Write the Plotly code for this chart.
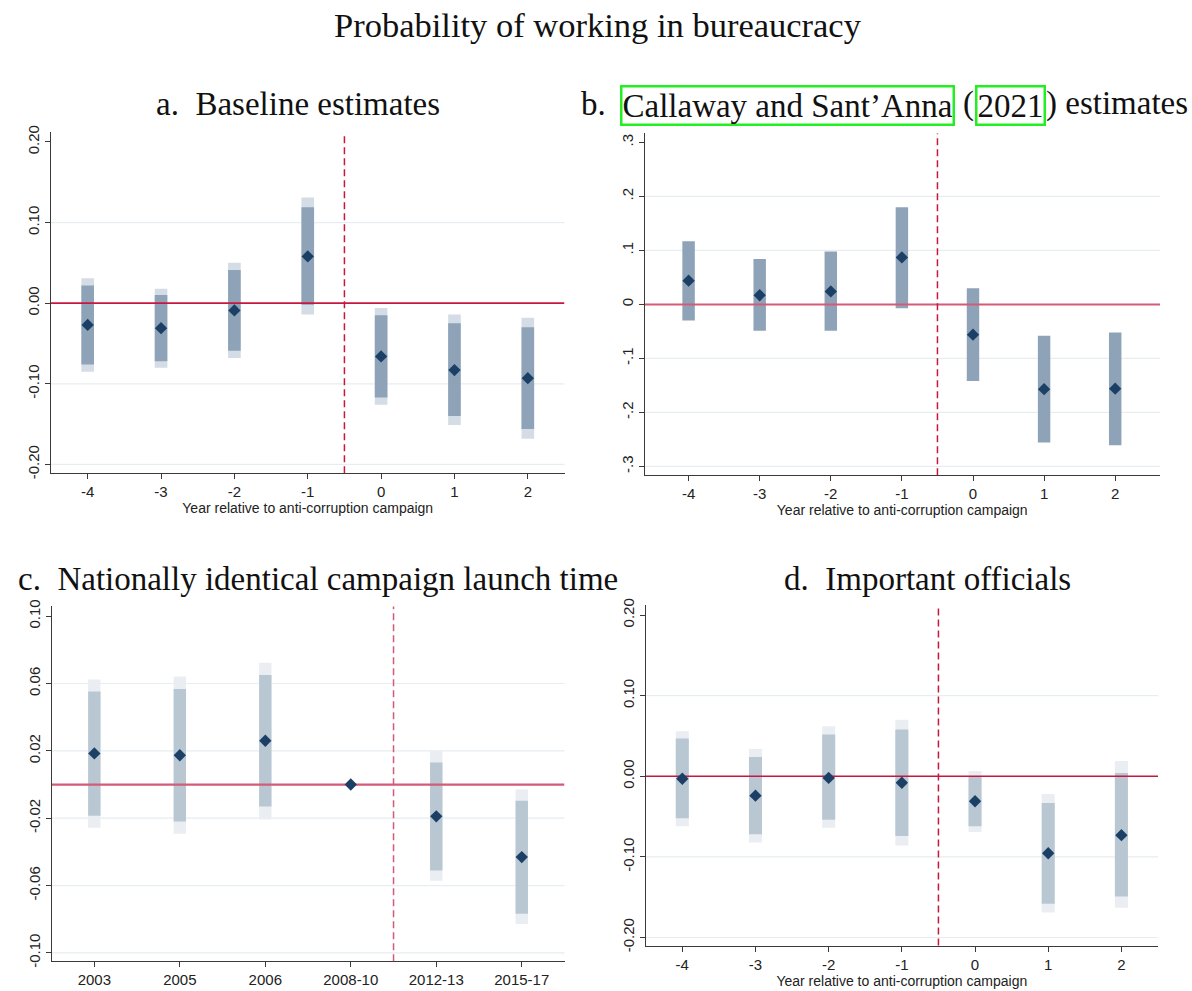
import plotly.graph_objects as go

# ---------------- data ----------------
rel_years = [-4, -3, -2, -1, 0, 1, 2]

# a. Baseline estimates
a_point = [-0.027, -0.031, -0.009, 0.058, -0.066, -0.083, -0.093]
a_lo90 = [-0.076, -0.072, -0.059, -0.002, -0.117, -0.140, -0.156]
a_hi90 = [0.022, 0.010, 0.041, 0.119, -0.015, -0.025, -0.030]
a_lo95 = [-0.085, -0.080, -0.068, -0.014, -0.126, -0.151, -0.168]
a_hi95 = [0.031, 0.018, 0.050, 0.131, -0.006, -0.014, -0.018]
a_ticks = [-0.2, -0.1, 0.0, 0.1, 0.2]
a_ticktext = ["-0.20", "-0.10", "0.00", "0.10", "0.20"]

# b. Callaway and Sant'Anna (2021) estimates
b_point = [0.044, 0.017, 0.024, 0.087, -0.056, -0.157, -0.156]
b_lo = [-0.030, -0.049, -0.049, -0.007, -0.142, -0.256, -0.261]
b_hi = [0.117, 0.084, 0.098, 0.180, 0.030, -0.058, -0.052]
b_ticks = [-0.3, -0.2, -0.1, 0.0, 0.1, 0.2, 0.3]
b_ticktext = ["-.3", "-.2", "-.1", "0", ".1", ".2", ".3"]

# c. Nationally identical campaign launch time
c_periods = ["2003", "2005", "2006", "2008-10", "2012-13", "2015-17"]
c_point = [0.0185, 0.0174, 0.026, 0.0, -0.0189, -0.0431]
c_lo90 = [-0.0185, -0.022, -0.0131, None, -0.0511, -0.0767]
c_hi90 = [0.0552, 0.0568, 0.065, None, 0.0131, -0.0096]
c_lo95 = [-0.0256, -0.0293, -0.0207, None, -0.0572, -0.0829]
c_hi95 = [0.0624, 0.0642, 0.0724, None, 0.0199, -0.0029]
c_ticks = [-0.10, -0.06, -0.02, 0.02, 0.06, 0.10]
c_ticktext = ["-0.10", "-0.06", "-0.02", "0.02", "0.06", "0.10"]

# d. Important officials
d_point = [-0.003, -0.024, -0.002, -0.008, -0.031, -0.0955, -0.073]
d_lo90 = [-0.052, -0.072, -0.054, -0.074, -0.062, -0.158, -0.149]
d_hi90 = [0.047, 0.024, 0.052, 0.058, 0.0, -0.033, 0.004]
d_lo95 = [-0.062, -0.082, -0.064, -0.086, -0.069, -0.169, -0.163]
d_hi95 = [0.056, 0.034, 0.062, 0.070, 0.0065, -0.022, 0.019]
d_ticks = [-0.2, -0.1, 0.0, 0.1, 0.2]
d_ticktext = ["-0.20", "-0.10", "0.00", "0.10", "0.20"]

x_title = "Year relative to anti-corruption campaign"

# ---------------- styles ----------------
DARK_A = "#8ea3b8"
LIGHT_A = "#d4dce5"
DARK_C = "#b9c7d3"
LIGHT_C = "#eaeef2"
MARKER = "#1c3f66"
RED = "#c8173f"
RED_SOFT = "#d35a78"
GRID = "#e6eef1"
AXIS = "#3a3a3a"
SERIF = "Liberation Serif"
SANS = "Liberation Sans"

fig = go.Figure()


def span(lo, hi):
    return [None if (l is None or h is None) else h - l for l, h in zip(lo, hi)]


def add_panel(k, xs, point, bands, width, xrange, hcolor, hwidth):
    xa = "x" if k == 1 else f"x{k}"
    ya = "y" if k == 1 else f"y{k}"
    for lo, hi, col in bands:
        fig.add_trace(go.Bar(x=xs, y=span(lo, hi), base=lo, width=width,
                             marker=dict(color=col, line=dict(width=0)),
                             xaxis=xa, yaxis=ya, showlegend=False, hoverinfo="skip"))
    fig.add_trace(go.Scatter(x=xrange, y=[0, 0], mode="lines",
                             line=dict(color=hcolor, width=hwidth),
                             xaxis=xa, yaxis=ya, showlegend=False, hoverinfo="skip"))
    fig.add_trace(go.Scatter(x=xs, y=point, mode="markers",
                             marker=dict(symbol="diamond", size=9.5, color=MARKER),
                             xaxis=xa, yaxis=ya, showlegend=False))


c_pos = list(range(1, len(c_periods) + 1))
ranges_x = {1: [-4.5, 2.5], 2: [-4.62, 2.63], 3: [0.5, len(c_periods) + 0.5], 4: [-4.5, 2.5]}
ranges_y = {1: [-0.211, 0.212], 2: [-0.3165, 0.3165], 3: [-0.105, 0.1058], 4: [-0.210, 0.212]}

add_panel(1, rel_years, a_point, [(a_lo95, a_hi95, LIGHT_A), (a_lo90, a_hi90, DARK_A)],
          0.172, ranges_x[1], RED, 1.6)
add_panel(2, rel_years, b_point, [(b_lo, b_hi, DARK_A)], 0.175, ranges_x[2], RED_SOFT, 2)
add_panel(3, c_pos, c_point, [(c_lo95, c_hi95, LIGHT_C), (c_lo90, c_hi90, DARK_C)],
          0.145, ranges_x[3], RED_SOFT, 2.2)
add_panel(4, rel_years, d_point, [(d_lo95, d_hi95, LIGHT_C), (d_lo90, d_hi90, DARK_C)],
          0.178, ranges_x[4], RED, 1.6)

W, H = 1192, 991


def dom_x(a, b):
    return [a / W, b / W]


def dom_y(top, bottom):
    return [1 - bottom / H, 1 - top / H]


domains = {
    1: (dom_x(51, 564.5), dom_y(127, 473)),
    2: (dom_x(644.5, 1160), dom_y(128.3, 475)),
    3: (dom_x(51.6, 564.5), dom_y(608, 968)),
    4: (dom_x(645.7, 1158), dom_y(607, 952)),
}

yticks = {1: (a_ticks, a_ticktext), 2: (b_ticks, b_ticktext), 3: (c_ticks, c_ticktext), 4: (d_ticks, d_ticktext)}

layout = dict(
    width=W, height=H, margin=dict(l=0, r=0, t=0, b=0),
    paper_bgcolor="white", plot_bgcolor="white", barmode="overlay",
    showlegend=False, font=dict(family=SANS, size=15, color="#222222"),
)

shapes = []
for k in range(1, 5):
    sx = "" if k == 1 else str(k)
    xd, yd = domains[k]
    tv, tt = yticks[k]
    xa = dict(domain=xd, range=ranges_x[k], anchor="y" + sx, showgrid=False, zeroline=False,
              showline=True, linecolor=AXIS, linewidth=1, ticks="outside", ticklen=5,
              tickcolor=AXIS, tickfont=dict(family=SANS, size=15, color="#222222"), fixedrange=True)
    if k == 3:
        xa.update(tickmode="array", tickvals=c_pos, ticktext=c_periods)
    else:
        xa.update(tickmode="array", tickvals=rel_years, ticktext=[str(v) for v in rel_years],
                  title=dict(text=x_title, font=dict(family=SANS, size=14, color="#222222"), standoff=2))
    ya = dict(domain=yd, range=ranges_y[k], anchor="x" + sx, showgrid=False, zeroline=False,
              showline=True, linecolor=AXIS, linewidth=1, ticks="outside", ticklen=5,
              tickcolor=AXIS, tickmode="array", tickvals=tv, ticktext=tt, tickangle=-90,
              tickfont=dict(family=SANS, size=15, color="#222222"), fixedrange=True)
    layout["xaxis" + sx] = xa
    layout["yaxis" + sx] = ya
    # gridlines (all but the top tick)
    for v in tv:
        if v == max(tv) or v == 0:
            continue
        shapes.append(dict(type="line", xref=f"x{sx} domain", yref="y" + sx, x0=0, x1=1, y0=v, y1=v,
                           line=dict(color=GRID, width=1.2), layer="below"))

# vertical dashed lines at campaign start
v_pos = {1: -0.5, 2: -0.5, 3: (c_periods.index("2008-10") + c_periods.index("2012-13")) / 2 + 1, 4: -0.5}
for k in range(1, 5):
    sx = "" if k == 1 else str(k)
    shapes.append(dict(type="line", xref="x" + sx, yref=f"y{sx} domain", x0=v_pos[k], x1=v_pos[k],
                       y0=0, y1=1, line=dict(color=RED if k != 3 else RED_SOFT, width=1.5, dash="7px,4px"),
                       layer="above"))

layout["shapes"] = shapes

tfont = dict(family=SERIF, size=33, color="#111111")
NB = "\u00a0"
annotations = [
    dict(text="Probability of working in bureaucracy", x=598 / W, y=1 - 18 / H,
         font=dict(family=SERIF, size=34.5, color="#111111")),
    dict(text=f"a.{NB}{NB}Baseline estimates", x=298 / W, y=1 - 98 / H),
    dict(text=f"c.{NB}{NB}Nationally identical campaign launch time", x=318 / W, y=1 - 580 / H),
    dict(text=f"d.{NB}{NB}Important officials", x=927 / W, y=1 - 580 / H),
    dict(text="b.", x=578.7 / W, y=1 - 98 / H, xanchor="left"),
    dict(text="Callaway and Sant\u2019Anna", x=787 / W, y=1 - 100 / H,
         bordercolor="#22ee22", borderwidth=2.5, borderpad=0),
    dict(text="(", x=961 / W, y=1 - 98 / H, xanchor="left"),
    dict(text="2021", x=1010 / W, y=1 - 100 / H, bordercolor="#22ee22", borderwidth=2.5, borderpad=0),
    dict(text=")\u00a0estimates", x=1044 / W, y=1 - 98 / H, xanchor="left"),
]
for a in annotations:
    a.setdefault("xanchor", "center")
    a.setdefault("font", tfont)
    a.update(xref="paper", yref="paper", yanchor="middle", showarrow=False)
layout["annotations"] = annotations

fig.update_layout(**layout)
fig.write_html("out.html", config={"displayModeBar": False},
               post_script="document.body.style.margin='0';document.body.style.overflow='hidden';")
